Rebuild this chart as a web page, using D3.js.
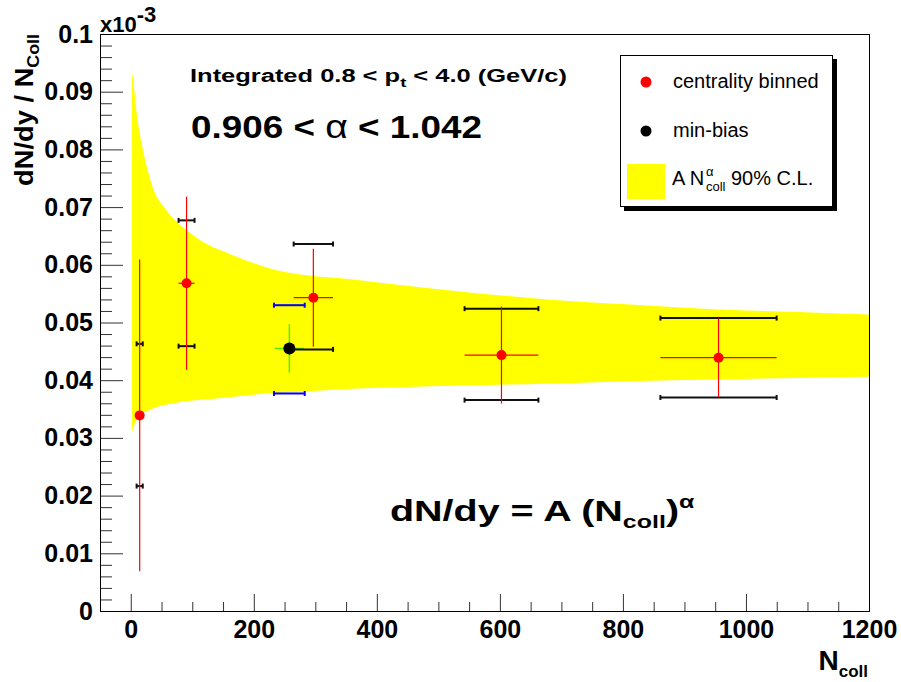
<!DOCTYPE html>
<html>
<head>
<meta charset="utf-8">
<script src="https://cdn.jsdelivr.net/npm/d3@7"></script>
<style>
  body { margin: 0; background: #fff; }
  svg { display: block; font-family: "Liberation Sans", Arial, Helvetica, sans-serif; }
</style>
</head>
<body>
<svg id="chart" width="901" height="682"></svg>
<script>
// Centrality-binned yields per binary collision (units of 1e-3)
const ncoll        = [14.5, 90.7, 296.8, 602.6, 955.4];
const ncollErr     = [5, 13, 32, 60, 94.5];
const yieldPerColl = [0.0339, 0.0568, 0.0543, 0.04435, 0.0439];
const statErr      = [0.0270, 0.0150, 0.0085, 0.0084, 0.0068];
const sysHigh      = [0.0463, 0.0677, 0.0636, 0.0524, 0.05076];
const sysLow       = [0.02165, 0.0459, 0.04534, 0.03655, 0.0370];

// Minimum-bias point
const mbNcoll    = [257.8];
const mbNcollErr = [25];
const mbYield    = [0.0455];
const mbStatErr  = [0.0042];
const mbSysHigh  = [0.0530];
const mbSysLow   = [0.0377];

// A * Ncoll^alpha fit, 90% C.L. envelope (divided by Ncoll)
const bandN     = [2, 6, 10, 17, 28, 38, 55, 93, 125, 163, 222, 276, 358, 406, 542, 677, 812, 947, 1083, 1200];
const bandUpper = [0.0936, 0.0900, 0.0860, 0.0814, 0.0762, 0.0728, 0.0699, 0.0658, 0.0635, 0.0618,
                   0.0595, 0.0583, 0.0575, 0.0569, 0.0553, 0.0540, 0.0531, 0.0523, 0.0518, 0.0514];
const bandLower = [0.0310, 0.0323, 0.0332, 0.0341, 0.0347, 0.0352, 0.0357, 0.0364, 0.0367, 0.0371,
                   0.0377, 0.0380, 0.0385, 0.0387, 0.0391, 0.0394, 0.0398, 0.0401, 0.0404, 0.0406];

// Axis ticks
const xMajorTicks = [0, 200, 400, 600, 800, 1000, 1200];
const yMajorTicks = [0, 0.01, 0.02, 0.03, 0.04, 0.05, 0.06, 0.07, 0.08, 0.09, 0.1];

const svg = d3.select("#chart");
const L = 100, R = 869, T = 34, B = 611;

const x = d3.scaleLinear().domain([-50, 1200]).range([L, R]);
const y = d3.scaleLinear().domain([0, 0.1]).range([B, T]);

// ---- fit band ----
const bandIdx = d3.range(bandN.length);
svg.append("path")
  .datum(bandIdx)
  .attr("fill", "#ffff00")
  .attr("d", d3.area()
    .curve(d3.curveMonotoneX)
    .x(i => x(bandN[i]))
    .y0(i => y(bandLower[i]))
    .y1(i => y(bandUpper[i])));

// ---- axes ----
const xMinor = d3.range(0, 1201, 50).filter(v => !xMajorTicks.includes(v));
const yMinor = d3.range(0, 0.1001, 0.002).map(v => +v.toFixed(3)).filter(v => !yMajorTicks.some(t => Math.abs(t - v) < 1e-9));

function styleAxis(g) {
  g.select(".domain").remove();
  g.selectAll(".tick line").attr("stroke", "#333").attr("stroke-width", 1);
  g.selectAll(".tick text")
    .attr("fill", "#000")
    .attr("font-size", 25)
    .attr("font-weight", "bold")
    .attr("font-family", "'Liberation Sans', Arial, sans-serif");
}

svg.append("g").attr("transform", `translate(0,${B})`)
  .call(d3.axisBottom(x).tickValues(xMinor).tickSizeInner(-9).tickSizeOuter(0).tickFormat(""))
  .call(styleAxis);
svg.append("g").attr("transform", `translate(0,${B})`)
  .call(d3.axisBottom(x).tickValues(xMajorTicks).tickSizeInner(-17).tickSizeOuter(0).tickPadding(9).tickFormat(d3.format("d")))
  .call(styleAxis);

svg.append("g").attr("transform", `translate(${L},0)`)
  .call(d3.axisLeft(y).tickValues(yMinor).tickSizeInner(-12).tickSizeOuter(0).tickFormat(""))
  .call(styleAxis);
svg.append("g").attr("transform", `translate(${L},0)`)
  .call(d3.axisLeft(y).tickValues(yMajorTicks).tickSizeInner(-23).tickSizeOuter(0).tickPadding(7)
    .tickFormat(d => d === 0 ? "0" : d3.format(".2~f")(d)))
  .call(styleAxis);

// frame
svg.append("rect")
  .attr("x", L + 0.5).attr("y", T + 0.5)
  .attr("width", R - L).attr("height", B - T)
  .attr("fill", "none").attr("stroke", "#000").attr("stroke-width", 1);

// ---- error bar helpers ----
function hBar(g, x1, x2, yy, color, w, caps) {
  g.append("line").attr("x1", x1).attr("x2", x2).attr("y1", yy).attr("y2", yy)
    .attr("stroke", color).attr("stroke-width", w);
  if (caps) {
    [x1, x2].forEach(cx => g.append("line")
      .attr("x1", cx).attr("x2", cx).attr("y1", yy - 2.5).attr("y2", yy + 2.5)
      .attr("stroke", color).attr("stroke-width", 2));
  }
}
function vLine(g, xx, y1, y2, color, w) {
  g.append("line").attr("x1", xx).attr("x2", xx).attr("y1", y1).attr("y2", y2)
    .attr("stroke", color).attr("stroke-width", w);
}

// ---- minimum-bias point ----
const gMb = svg.append("g");
mbNcoll.forEach((n, i) => {
  const cx = x(n), cy = y(mbYield[i]);
  hBar(gMb, x(n - mbNcollErr[i]), x(n + mbNcollErr[i]), y(mbSysHigh[i]), "#0000ff", 2, true);
  hBar(gMb, x(n - mbNcollErr[i]), x(n + mbNcollErr[i]), y(mbSysLow[i]), "#0000ff", 2, true);
  vLine(gMb, cx, y(mbYield[i] + mbStatErr[i]), y(mbYield[i] - mbStatErr[i]), "#55ee00", 1.5);
  hBar(gMb, x(n - mbNcollErr[i] + 1), x(n + mbNcollErr[i] - 1), cy, "#55ee00", 1.5, false);
  gMb.append("circle").attr("cx", cx).attr("cy", cy).attr("r", 6).attr("fill", "#000");
});

// ---- centrality-binned points ----
const gPts = svg.append("g");
ncoll.forEach((n, i) => {
  const cx = x(n), cy = y(yieldPerColl[i]);
  const x1 = x(n - ncollErr[i]), x2 = x(n + ncollErr[i]);
  hBar(gPts, x1, x2, y(sysHigh[i]), "#111", 2, true);
  hBar(gPts, x1, x2, y(sysLow[i]), "#111", 2, true);
  vLine(gPts, cx, y(yieldPerColl[i] + statErr[i]), y(yieldPerColl[i] - statErr[i]), "#ff0000", 1.2);
  hBar(gPts, x1, x2, cy, "#ff0000", 1.2, false);
  gPts.append("circle").attr("cx", cx).attr("cy", cy).attr("r", 5).attr("fill", "#ff0000");
});

// ---- text helpers ----
function stretch(t, tx, ty, width) {
  const w = t.node().getBBox().width;
  t.attr("transform", `translate(${tx},${ty}) scale(${width / w},1)`);
}

// axis multiplier
const mult = svg.append("text").attr("x", 100).attr("y", 32)
  .attr("font-size", 22).attr("font-weight", "bold");
mult.append("tspan").text("x10");
mult.append("tspan").attr("dy", -10).attr("font-size", 22).text("-3");

// y-axis title (rotated, ends at top of frame)
const yt = svg.append("text")
  .attr("text-anchor", "end")
  .attr("font-size", 26).attr("font-weight", "bold")
  .attr("x", 0).attr("y", 0);
yt.append("tspan").text("dN/dy / N");
yt.append("tspan").attr("font-size", 17).attr("dy", 6).text("Coll");
{
  const w = yt.node().getBBox().width;
  yt.attr("transform", `translate(33,34) rotate(-90) scale(${152 / w},1)`);
}

// x-axis title
const xt = svg.append("text")
  .attr("text-anchor", "end").attr("x", 868).attr("y", 670)
  .attr("font-size", 28).attr("font-weight", "bold");
xt.append("tspan").text("N");
xt.append("tspan").attr("font-size", 17).attr("dy", 7).text("coll");

// kinematic range
const t1 = svg.append("text").attr("font-size", 18).attr("font-weight", "bold");
t1.append("tspan").text("Integrated 0.8 < p");
t1.append("tspan").attr("font-size", 13).attr("dy", 5).text("t");
t1.append("tspan").attr("dy", -5).text(" < 4.0 (GeV/c)");
stretch(t1, 190, 82, 377);

// alpha range
const t2 = svg.append("text").attr("font-size", 32).attr("font-weight", "bold");
t2.append("tspan").text("0.906 < ");
t2.append("tspan").attr("font-weight", "normal").attr("font-size", 34).text("α");
t2.append("tspan").text(" < 1.042");
stretch(t2, 191, 138, 291);

// fit function
const t3 = svg.append("text").attr("font-size", 30).attr("font-weight", "bold");
t3.append("tspan").text("dN/dy = A (N");
t3.append("tspan").attr("font-size", 19).attr("dy", 7).text("coll");
t3.append("tspan").attr("dy", -7).text(")");
t3.append("tspan").attr("font-size", 19).attr("dy", -13).text("α");
stretch(t3, 390, 521, 305);

// ---- legend ----
const lg = svg.append("g");
lg.append("rect").attr("x", 624).attr("y", 59).attr("width", 213).attr("height", 152).attr("fill", "#000");
lg.append("rect").attr("x", 620.5).attr("y", 55.5).attr("width", 212).attr("height", 151)
  .attr("fill", "#fff").attr("stroke", "#000").attr("stroke-width", 1);

lg.append("circle").attr("cx", 646).attr("cy", 82).attr("r", 5.5).attr("fill", "#ff0000");
lg.append("text").attr("x", 673).attr("y", 88).attr("font-size", 20).text("centrality binned");

lg.append("circle").attr("cx", 646).attr("cy", 131).attr("r", 5.5).attr("fill", "#000");
lg.append("text").attr("x", 673).attr("y", 137).attr("font-size", 20).text("min-bias");

lg.append("rect").attr("x", 627).attr("y", 164).attr("width", 38).attr("height", 35).attr("fill", "#ffff00");
lg.append("text").attr("x", 672).attr("y", 185).attr("font-size", 20).text("A N");
lg.append("text").attr("x", 706).attr("y", 176).attr("font-size", 13).text("α");
lg.append("text").attr("x", 706).attr("y", 191).attr("font-size", 13).text("coll");
lg.append("text").attr("x", 731).attr("y", 185).attr("font-size", 20).text("90% C.L.");
</script>
</body>
</html>
